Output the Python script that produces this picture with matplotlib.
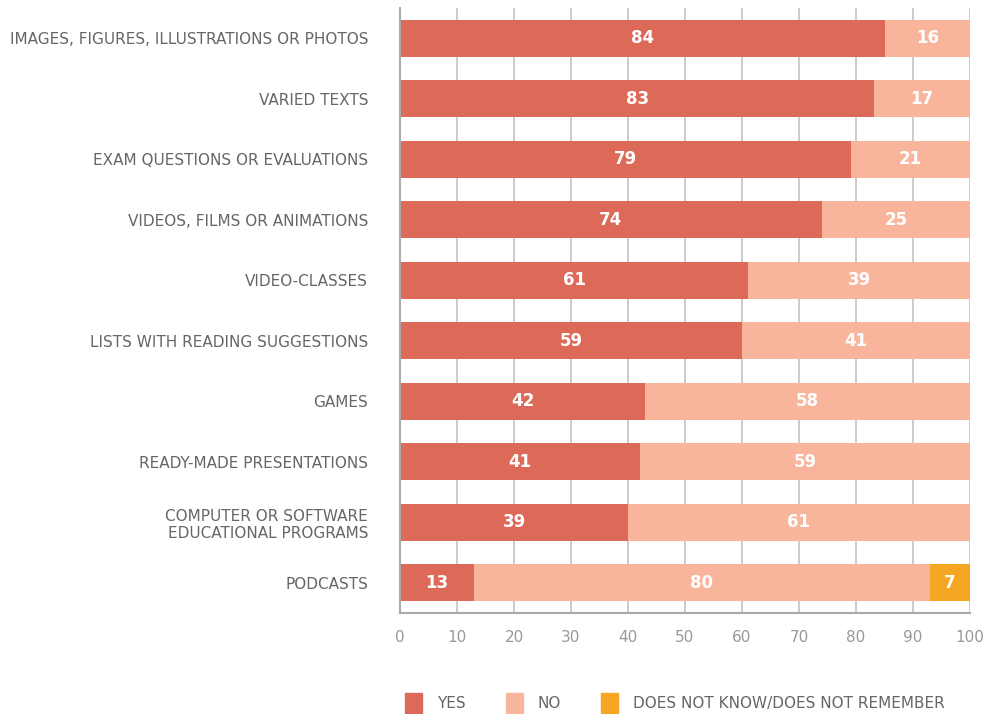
import matplotlib
matplotlib.use("Agg")
import matplotlib.pyplot as plt
from matplotlib.patches import Patch

categories = [
    "IMAGES, FIGURES, ILLUSTRATIONS OR PHOTOS",
    "VARIED TEXTS",
    "EXAM QUESTIONS OR EVALUATIONS",
    "VIDEOS, FILMS OR ANIMATIONS",
    "VIDEO-CLASSES",
    "LISTS WITH READING SUGGESTIONS",
    "GAMES",
    "READY-MADE PRESENTATIONS",
    "COMPUTER OR SOFTWARE\nEDUCATIONAL PROGRAMS",
    "PODCASTS",
]
# bar lengths
yes = [85.1, 83.2, 79.1, 74.0, 61.1, 60.0, 43.0, 42.1, 40.0, 12.9]
no = [14.9, 16.8, 20.9, 26.0, 38.9, 40.0, 57.0, 57.9, 60.0, 80.1]
dnk = [0, 0, 0, 0, 0, 0, 0, 0, 0, 7.0]
# printed labels
yes_lbl = [84, 83, 79, 74, 61, 59, 42, 41, 39, 13]
no_lbl = [16, 17, 21, 25, 39, 41, 58, 59, 61, 80]
dnk_lbl = [None, None, None, None, None, None, None, None, None, 7]

c_yes = "#DD6A58"
c_no = "#F9B59B"
c_dnk = "#F5A623"

fig = plt.figure(figsize=(9.86, 7.14), dpi=100)
ax = fig.add_axes([400 / 986, 1 - 613 / 714, 570 / 986, 605 / 714])

y = list(range(len(categories)))
h = 0.61
ax.barh(y, yes, height=h, color=c_yes, zorder=2)
ax.barh(y, no, left=yes, height=h, color=c_no, zorder=2)
left2 = [a + b for a, b in zip(yes, no)]
ax.barh(y, dnk, left=left2, height=h, color=c_dnk, zorder=2)

for i in y:
    ax.text(yes[i] / 2, i, str(yes_lbl[i]), ha="center", va="center",
            color="white", fontsize=12, fontweight="bold", zorder=3)
    ax.text(yes[i] + no[i] / 2, i, str(no_lbl[i]), ha="center", va="center",
            color="white", fontsize=12, fontweight="bold", zorder=3)
    if dnk_lbl[i] is not None:
        ax.text(left2[i] + dnk[i] / 2, i, str(dnk_lbl[i]), ha="center",
                va="center", color="white", fontsize=12, fontweight="bold",
                zorder=3)

ax.set_xlim(0, 100)
ax.set_ylim(len(categories) - 0.5, -0.5)
ax.set_xticks(range(0, 101, 10))
ax.set_yticks(y)
ax.set_yticklabels(categories, fontsize=11, color="#666666")
ax.tick_params(axis="y", length=0, pad=23)
ax.tick_params(axis="x", length=0, pad=12, labelsize=11, labelcolor="#999999")
ax.xaxis.grid(True, color="#c4c4c4", linewidth=1.2, zorder=0)
for t in ax.get_yticklabels():
    t.set_multialignment("right")

for s in ["top", "right"]:
    ax.spines[s].set_visible(False)
for s in ["left", "bottom"]:
    ax.spines[s].set_color("#aaaaaa")
    ax.spines[s].set_linewidth(1.5)

handles = [Patch(color=c_yes, label="YES"),
           Patch(color=c_no, label="NO"),
           Patch(color=c_dnk, label="DOES NOT KNOW/DOES NOT REMEMBER")]
leg = fig.legend(handles=handles, loc="center", ncol=3, frameon=False,
                 bbox_to_anchor=(675 / 986, 1 - 703 / 714), fontsize=11,
                 handlelength=1.1, handleheight=1.6, columnspacing=2.6,
                 handletextpad=1.0)
for t in leg.get_texts():
    t.set_color("#666666")

fig.savefig("out.png", dpi=100)
